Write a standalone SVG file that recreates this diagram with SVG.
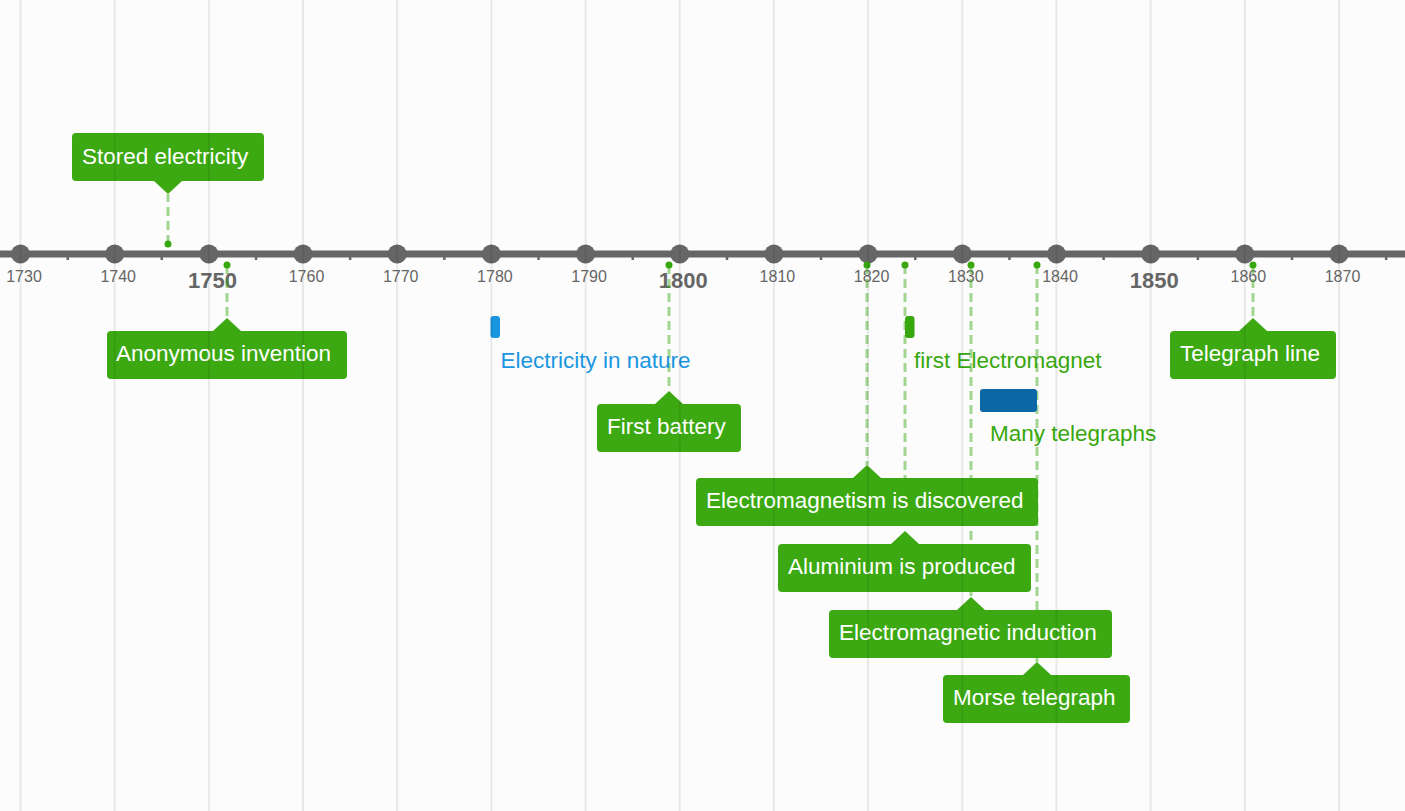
<svg xmlns="http://www.w3.org/2000/svg" width="1405" height="811" viewBox="0 0 1405 811">
<style>
.yr{font-family:"Liberation Sans",Arial,sans-serif;font-size:16px;fill:#666;text-anchor:middle}
.yrb{font-family:"Liberation Sans",Arial,sans-serif;font-size:22px;font-weight:bold;fill:#666;text-anchor:middle}
.dot{fill:#666}
.tick{fill:#666}
.grid{stroke:#000;stroke-opacity:0.08;stroke-width:2}
.conn{stroke:#38a70d;stroke-opacity:0.45;stroke-width:3;stroke-dasharray:9 5;fill:none}
.edot{fill:#38a70d}
.box{fill:#38a70d;fill-opacity:0.98}
.lbl{font-family:"Liberation Sans",Arial,sans-serif;font-size:22.5px;fill:#fff}
.rtxt{font-family:"Liberation Sans",Arial,sans-serif;font-size:22.5px}
</style>
<rect x="0" y="0" width="1405" height="811" fill="#fcfcfc"/>
<g id="axis">
<rect x="0" y="250.5" width="1405" height="7" fill="#666"/>
<g class="ticks">
<rect class="tick" x="66.5" y="257" width="2.5" height="3"/>
<rect class="tick" x="160.5" y="257" width="2.5" height="3"/>
<rect class="tick" x="254.8" y="257" width="2.5" height="3"/>
<rect class="tick" x="348.9" y="257" width="2.5" height="3"/>
<rect class="tick" x="443.1" y="257" width="2.5" height="3"/>
<rect class="tick" x="537.3" y="257" width="2.5" height="3"/>
<rect class="tick" x="631.5" y="257" width="2.5" height="3"/>
<rect class="tick" x="725.7" y="257" width="2.5" height="3"/>
<rect class="tick" x="819.8" y="257" width="2.5" height="3"/>
<rect class="tick" x="914" y="257" width="2.5" height="3"/>
<rect class="tick" x="1008.2" y="257" width="2.5" height="3"/>
<rect class="tick" x="1102.4" y="257" width="2.5" height="3"/>
<rect class="tick" x="1196.6" y="257" width="2.5" height="3"/>
<rect class="tick" x="1290.7" y="257" width="2.5" height="3"/>
<rect class="tick" x="1384.9" y="257" width="2.5" height="3"/>
</g>
<g class="decades">
<circle class="dot" cx="20.5" cy="254" r="9.5"/>
<circle class="dot" cx="114.7" cy="254" r="9.5"/>
<circle class="dot" cx="208.9" cy="254" r="9.5"/>
<circle class="dot" cx="303" cy="254" r="9.5"/>
<circle class="dot" cx="397.2" cy="254" r="9.5"/>
<circle class="dot" cx="491.4" cy="254" r="9.5"/>
<circle class="dot" cx="585.6" cy="254" r="9.5"/>
<circle class="dot" cx="679.8" cy="254" r="9.5"/>
<circle class="dot" cx="773.9" cy="254" r="9.5"/>
<circle class="dot" cx="868.1" cy="254" r="9.5"/>
<circle class="dot" cx="962.3" cy="254" r="9.5"/>
<circle class="dot" cx="1056.5" cy="254" r="9.5"/>
<circle class="dot" cx="1150.7" cy="254" r="9.5"/>
<circle class="dot" cx="1244.8" cy="254" r="9.5"/>
<circle class="dot" cx="1339" cy="254" r="9.5"/>
</g>
<g class="labels">
<text class="yr" x="24" y="282">1730</text>
<text class="yr" x="118.2" y="282">1740</text>
<text class="yrb" x="212.4" y="288">1750</text>
<text class="yr" x="306.5" y="282">1760</text>
<text class="yr" x="400.7" y="282">1770</text>
<text class="yr" x="494.9" y="282">1780</text>
<text class="yr" x="589.1" y="282">1790</text>
<text class="yrb" x="683.3" y="288">1800</text>
<text class="yr" x="777.4" y="282">1810</text>
<text class="yr" x="871.6" y="282">1820</text>
<text class="yr" x="965.8" y="282">1830</text>
<text class="yr" x="1060" y="282">1840</text>
<text class="yrb" x="1154.2" y="288">1850</text>
<text class="yr" x="1248.3" y="282">1860</text>
<text class="yr" x="1342.5" y="282">1870</text>
</g>
</g>
<g id="connectors">
<line class="conn" x1="168" y1="244" x2="168" y2="194"/>
<line class="conn" x1="227" y1="265" x2="227" y2="318"/>
<line class="conn" x1="669" y1="265" x2="669" y2="391"/>
<line class="conn" x1="867" y1="265" x2="867" y2="465"/>
<line class="conn" x1="905" y1="265" x2="905" y2="531"/>
<line class="conn" x1="971" y1="265" x2="971" y2="597"/>
<line class="conn" x1="1037" y1="265" x2="1037" y2="662"/>
<line class="conn" x1="1253" y1="265" x2="1253" y2="318"/>
<circle class="edot" cx="168" cy="244" r="3.5"/>
<circle class="edot" cx="227" cy="265" r="3.5"/>
<circle class="edot" cx="669" cy="265" r="3.5"/>
<circle class="edot" cx="867" cy="265" r="3.5"/>
<circle class="edot" cx="905" cy="265" r="3.5"/>
<circle class="edot" cx="971" cy="265" r="3.5"/>
<circle class="edot" cx="1037" cy="265" r="3.5"/>
<circle class="edot" cx="1253" cy="265" r="3.5"/>
</g>
<g id="stored-electricity">
<rect class="box" x="72" y="133" width="192" height="48" rx="4"/>
<path class="box" d="M154,181 L168,194 L182,181 Z"/>
<text class="lbl" x="82" y="164">Stored electricity</text>
</g>
<g id="anonymous-invention">
<rect class="box" x="107" y="331" width="240" height="48" rx="4"/>
<path class="box" d="M213,331 L227,318 L241,331 Z"/>
<text class="lbl" x="116" y="361">Anonymous invention</text>
</g>
<g id="electricity-in-nature">
<rect x="490.5" y="316" width="9.5" height="22" rx="3" fill="#1a96e0"/>
<text class="rtxt" x="500.5" y="368" fill="#1a96e0">Electricity in nature</text>
</g>
<g id="first-battery">
<rect class="box" x="597" y="404" width="144" height="48" rx="4"/>
<path class="box" d="M655,404 L669,391 L683,404 Z"/>
<text class="lbl" x="607" y="434">First battery</text>
</g>
<g id="first-electromagnet">
<rect x="905" y="316" width="9.5" height="22" rx="3" fill="#38a70d"/>
<text class="rtxt" x="914" y="368" fill="#38a70d">first Electromagnet</text>
</g>
<g id="many-telegraphs">
<rect x="980" y="389" width="57" height="23" rx="3" fill="#0b67a6"/>
<text class="rtxt" x="990" y="441" fill="#38a70d">Many telegraphs</text>
</g>
<g id="electromagnetism-is-discovered">
<rect class="box" x="696" y="478" width="342" height="48" rx="4"/>
<path class="box" d="M853,478 L867,465 L881,478 Z"/>
<text class="lbl" x="706" y="508">Electromagnetism is discovered</text>
</g>
<g id="aluminium-is-produced">
<rect class="box" x="778" y="544" width="253" height="48" rx="4"/>
<path class="box" d="M891,544 L905,531 L919,544 Z"/>
<text class="lbl" x="788" y="574">Aluminium is produced</text>
</g>
<g id="electromagnetic-induction">
<rect class="box" x="829" y="610" width="283" height="48" rx="4"/>
<path class="box" d="M957,610 L971,597 L985,610 Z"/>
<text class="lbl" x="839" y="640">Electromagnetic induction</text>
</g>
<g id="morse-telegraph">
<rect class="box" x="943" y="675" width="187" height="48" rx="4"/>
<path class="box" d="M1023,675 L1037,662 L1051,675 Z"/>
<text class="lbl" x="953" y="705">Morse telegraph</text>
</g>
<g id="telegraph-line">
<rect class="box" x="1170" y="331" width="166" height="48" rx="4"/>
<path class="box" d="M1239,331 L1253,318 L1267,331 Z"/>
<text class="lbl" x="1180" y="361">Telegraph line</text>
</g>
<g id="grid">
<line class="grid" x1="20.5" y1="0" x2="20.5" y2="811"/>
<line class="grid" x1="114.7" y1="0" x2="114.7" y2="811"/>
<line class="grid" x1="208.9" y1="0" x2="208.9" y2="811"/>
<line class="grid" x1="303" y1="0" x2="303" y2="811"/>
<line class="grid" x1="397.2" y1="0" x2="397.2" y2="811"/>
<line class="grid" x1="491.4" y1="0" x2="491.4" y2="811"/>
<line class="grid" x1="585.6" y1="0" x2="585.6" y2="811"/>
<line class="grid" x1="679.8" y1="0" x2="679.8" y2="811"/>
<line class="grid" x1="773.9" y1="0" x2="773.9" y2="811"/>
<line class="grid" x1="868.1" y1="0" x2="868.1" y2="811"/>
<line class="grid" x1="962.3" y1="0" x2="962.3" y2="811"/>
<line class="grid" x1="1056.5" y1="0" x2="1056.5" y2="811"/>
<line class="grid" x1="1150.7" y1="0" x2="1150.7" y2="811"/>
<line class="grid" x1="1244.8" y1="0" x2="1244.8" y2="811"/>
<line class="grid" x1="1339" y1="0" x2="1339" y2="811"/>
</g>
</svg>
